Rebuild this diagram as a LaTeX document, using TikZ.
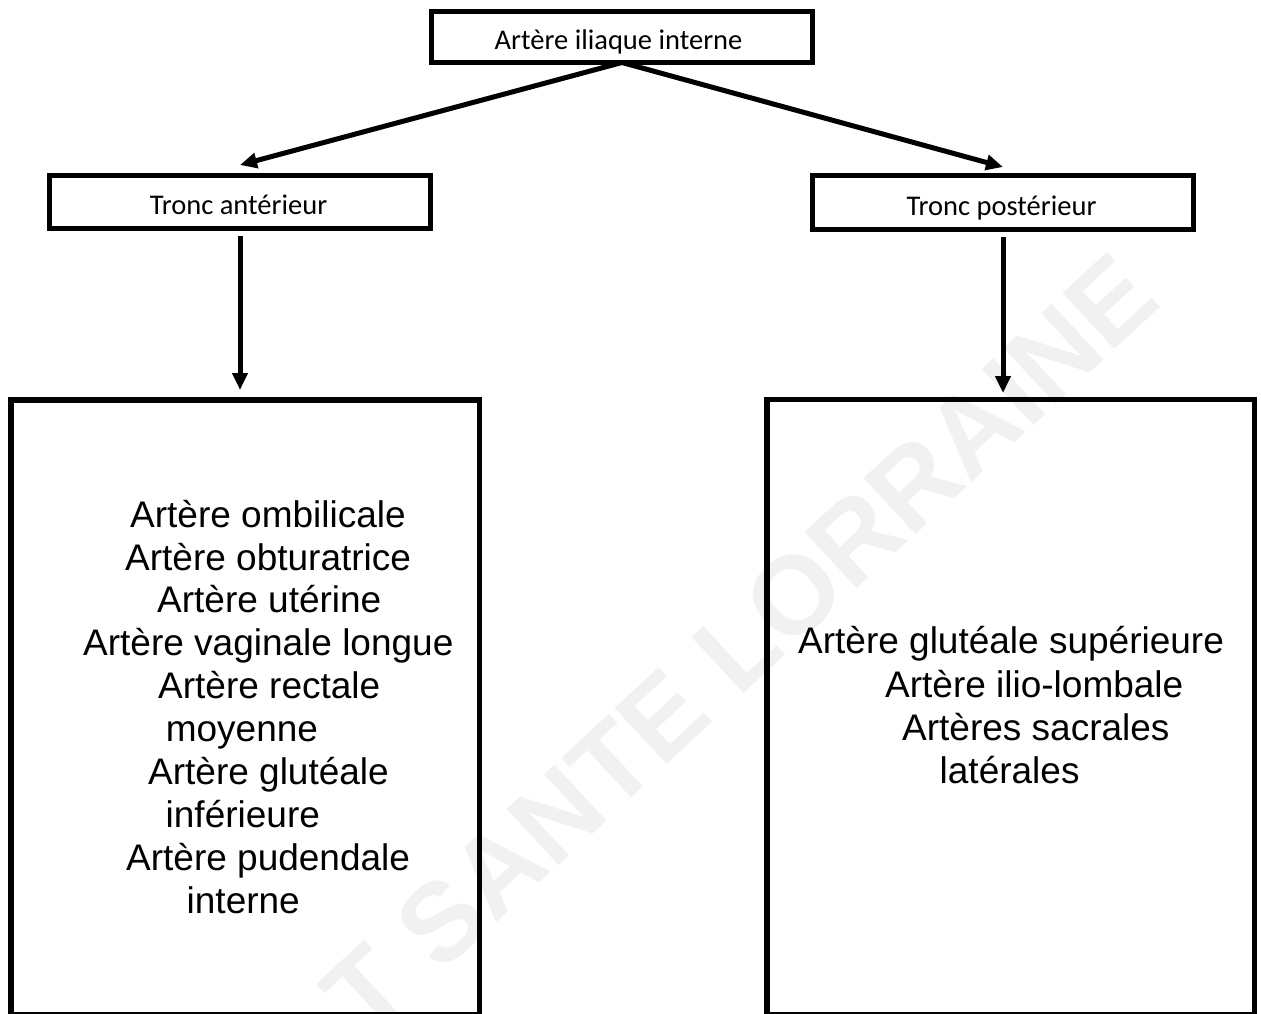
\documentclass[tikz,border=0pt]{standalone}
\usepackage{fontspec}
\setmainfont{Liberation Sans}
\newfontfamily\calib{Carlito}
\usetikzlibrary{arrows.meta}
\definecolor{wmgray}{RGB}{241,241,241}
\begin{document}
\begin{tikzpicture}[x=1pt,y=-1pt,
  box/.style={draw,line width=5pt,inner sep=0pt,outer sep=0pt},
  bigbox/.style={draw,line width=5.5pt,inner sep=0pt,outer sep=0pt},
  lab/.style={font=\calib\fontsize{28.5}{30}\selectfont,inner sep=0pt,anchor=base},
  item/.style={font=\fontsize{37}{43}\selectfont,inner sep=0pt,anchor=base west},
  arr/.style={line width=5pt,-{Triangle[length=17pt,width=15pt]}},
  wm/.style={font=\bfseries\fontsize{111}{111}\selectfont,text=wmgray,inner sep=0pt}]
\useasboundingbox (0,0) rectangle (1261,1014);
\clip (0,0) rectangle (1261,1014);
\fill[white] (0,0) rectangle (1261,1014);
% watermark
\node[wm,rotate=42.8] (wmark) at (740,645) {T SANTE LORRAINE};
% boxes
\node[box,minimum width=381pt,minimum height=51pt] (top) at (622,37) {};
\node[box,minimum width=381pt,minimum height=53pt] (ant) at (240,201.5) {};
\node[box,minimum width=381.5pt,minimum height=54.5pt] (post) at (1003,202.25) {};
\node[bigbox,minimum width=468.5pt,minimum height=615pt] (lbox) at (245.25,707.5) {};
\node[bigbox,minimum width=487.5pt,minimum height=615.5pt] (rbox) at (1010.75,707.25) {};
% labels
\node[lab] (topT) at (618.5,50) {Artère iliaque interne};
\node[lab] (antT) at (238.5,214) {Tronc antérieur};
\node[lab] (postT) at (1001.5,215) {Tronc postérieur};
% left list
\node[item] (l1) at (130,527) {Artère ombilicale};
\node[item] (l2) at (125,570) {Artère obturatrice};
\node[item] (l3) at (157,612) {Artère utérine};
\node[item] (l4) at (83,655) {Artère vaginale longue};
\node[item] (l5) at (158,698) {Artère rectale};
\node[item] (l6) at (165.6,741) {moyenne};
\node[item] (l7) at (148,784) {Artère glutéale};
\node[item] (l8) at (165.5,827) {inférieure};
\node[item] (l9) at (126,870) {Artère pudendale};
\node[item] (l10) at (186.5,913) {interne};
% right list
\node[item] (r1) at (798,653) {Artère glutéale supérieure};
\node[item] (r2) at (885,697) {Artère ilio-lombale};
\node[item] (r3) at (902,740) {Artères sacrales};
\node[item] (r4) at (939.5,783) {latérales};
% connectors
\draw[arr] (top.south) -- ([yshift=10pt]ant.north);
\draw[arr] (top.south) -- ([yshift=8pt]post.north);
\draw[arr,shorten <=8pt,shorten >=10pt] (ant.south) -- (ant.south |- lbox.north);
\draw[arr,shorten <=7.5pt,shorten >=6.5pt] (post.south) -- (post.south |- rbox.north);
\end{tikzpicture}
\end{document}
